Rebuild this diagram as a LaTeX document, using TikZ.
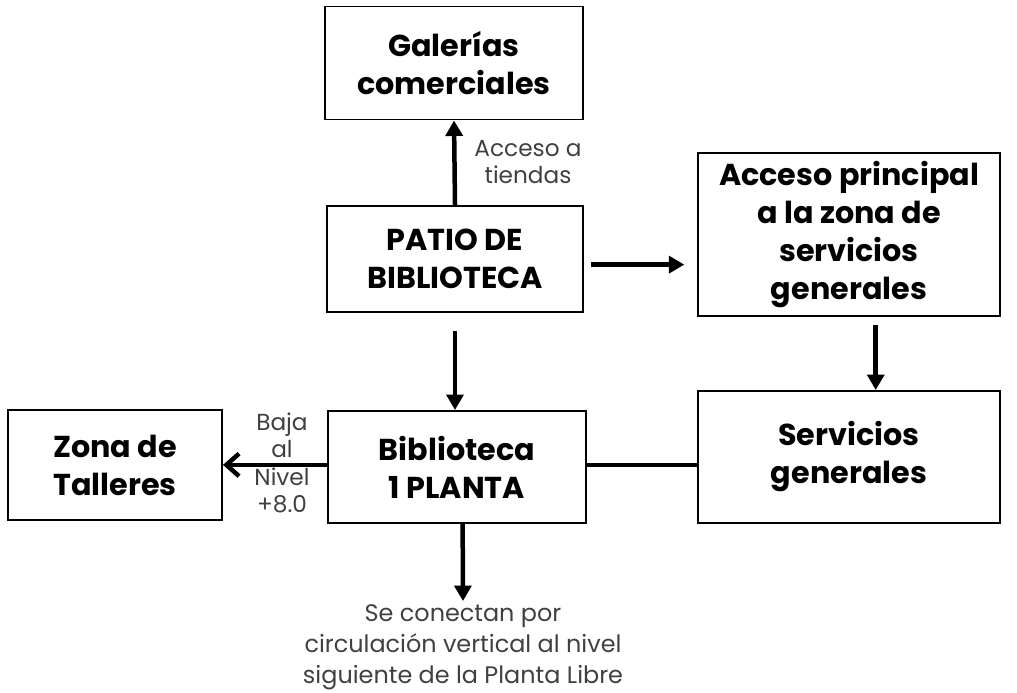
\documentclass[tikz,border=0pt]{standalone}
\usepackage{fontspec}
\setmainfont{Poppins}
\usetikzlibrary{arrows.meta}

\definecolor{notegray}{HTML}{404040}

\begin{document}
\begin{tikzpicture}[x=0.025cm, y=-0.025cm, >={Triangle[length=11pt,width=12pt]},
  zone/.style={draw, line width=1.4pt, align=center, inner sep=0pt,
    font=\bfseries\fontsize{21.5}{27}\selectfont},
  note/.style={align=center, text=notegray, inner sep=0pt,
    font=\fontsize{16.5}{19.5}\selectfont},
  flow/.style={line width=3.2pt}]

\useasboundingbox (0,0) rectangle (1017,692);

% The zones of the plan
\node [zone, minimum width=258*0.025cm, minimum height=113*0.025cm] (gal) at (454,63) {Galerías\\comerciales};
\node [zone, minimum width=256*0.025cm, minimum height=106*0.025cm] (patio) at (455,259) {PATIO DE\\BIBLIOTECA};
\node [zone, minimum width=302*0.025cm, minimum height=163*0.025cm] (acc) at (849,234.5) {Acceso principal\\a la zona de\\servicios\\generales};
\node [zone, minimum width=258*0.025cm, minimum height=112*0.025cm] (bib) at (457,467) {Biblioteca\\1 PLANTA};
\node [zone, minimum width=214*0.025cm, minimum height=110*0.025cm] (tal) at (115,465) {Zona de\\Talleres};
\node [zone, minimum width=302*0.025cm, minimum height=132*0.025cm] (serv) at (849,457) {Servicios\\generales};

% Notes beside the arrows
\node [note] (tiendas) at (528,162) {Acceso a\\tiendas};
\node [note] (baja) at (282,463) {Baja\\al\\Nivel\\+8.0};
\coordinate (libtop) at (463,601);
\node [note, anchor=north, font=\fontsize{17}{22}\selectfont] (libre) at (463,604) {Se conectan por\\circulación vertical al nivel\\siguiente de la Planta Libre};

% Circulation between the zones
\draw [flow, ->] (patio.north) -- (gal.south);
\draw [flow, ->, shorten <=5pt, shorten >=9pt] ([yshift=-4pt]patio.east) -- ([yshift=-4pt]patio.east -| acc.west);
\draw [flow, ->, shorten <=13pt] (patio.south) -- (patio.south |- bib.north);
\draw [flow, ->, shorten <=6pt] ([xshift=19pt]acc.south) -- ([xshift=19pt]serv.north);
\draw [flow, -{Straight Barb[length=9pt,width=16pt]}] ([yshift=1.5pt]bib.west) -- ([yshift=1.5pt]bib.west -| tal.east);
\draw [flow] ([yshift=1.5pt]bib.east) -- ([yshift=1.5pt]bib.east -| serv.west);
\draw [flow, ->] ([xshift=4pt]bib.south) -- (libtop);

\end{tikzpicture}
\end{document}
